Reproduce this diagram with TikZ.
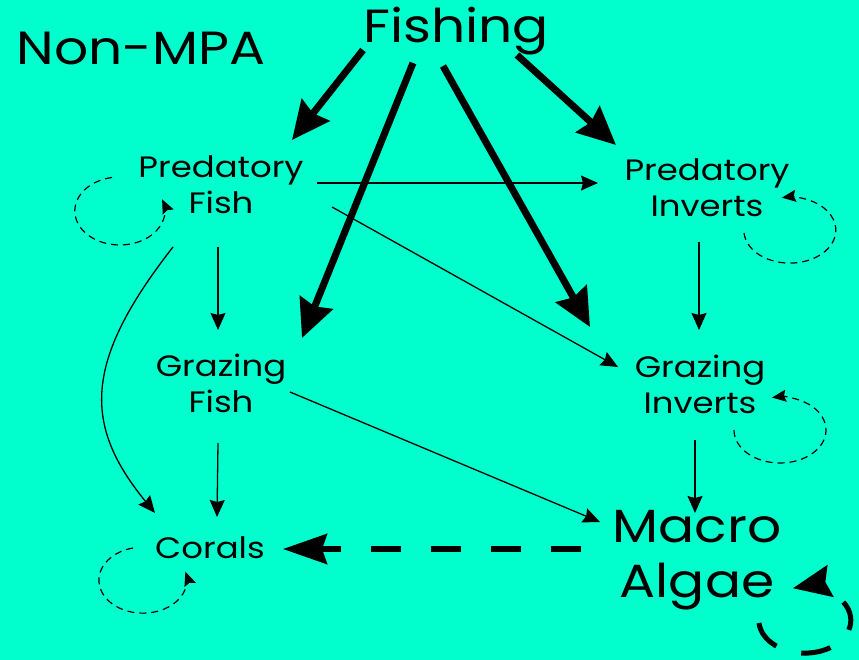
\documentclass[tikz,border=0pt]{standalone}
\usepackage{fontspec}
\setmainfont{Poppins}[FakeStretch=1.15]
\usepackage{xcolor}
\usetikzlibrary{arrows.meta, calc}
\definecolor{seacyan}{RGB}{0,255,204}

\begin{document}
\begin{tikzpicture}[x=1pt, y=-1pt,
    lbl/.style={align=center, inner sep=0pt, font=\fontsize{29.5}{36}\selectfont},
    biglbl/.style={align=center, inner sep=0pt, font=\fontsize{46.5}{55}\selectfont},
    link/.style={-{Stealth[length=17pt, width=15pt, inset=2pt]}, line width=1.3pt},
    fisharrow/.style={-{Stealth[length=38pt, width=35pt, inset=4pt]}, line width=7pt},
    selfloop/.style={-{Stealth[length=14pt, width=12pt, inset=2pt]}, line width=1.2pt, dash pattern=on 7pt off 5pt},
    bigloop/.style={-{Stealth[length=38pt, width=32pt, inset=5pt]}, line width=5pt, dash pattern=on 30pt off 26pt},
    bigdash/.style={-{Stealth[length=44pt, width=30pt, inset=5pt]}, line width=5.5pt, dash pattern=on 30pt off 30pt}
]
\fill[seacyan] (0,0) rectangle (859,660);
\useasboundingbox (0,0) rectangle (859,660);

\node[biglbl] (nonmpa) at (141,48) {Non-MPA};
\node[biglbl] (fishing) at (456,31) {Fishing};
\node[lbl] (predfish) at (221,185) {Predatory\\Fish};
\node[lbl] (predinv) at (707,188) {Predatory\\Inverts};
\node[lbl] (grazfish) at (221,383) {Grazing\\Fish};
\node[lbl] (grazinv) at (700,384) {Grazing\\Inverts};
\node[lbl] (corals) at (210,548) {Corals};
\node[biglbl] (algae) at (697,560) {Macro\\Algae};

% fishing pressure
\draw[fisharrow] ($(fishing)+(-93,19)$) -- ($(predfish)+(71,-45)$);
\draw[fisharrow] ($(fishing)+(-43,32)$) -- ($(grazfish)+(81,-45)$);
\draw[fisharrow] ($(fishing)+(-13,35)$) -- ($(grazinv)+(-110,-57)$);
\draw[fisharrow] ($(fishing)+(61,24)$) -- ($(predinv)+(-91,-43)$);

% food web links
\draw[link] ($(predfish)+(96,-2)$) -- ($(predinv)+(-109,-5)$);
\draw[link] ($(predfish)+(111,22)$) -- ($(grazinv)+(-82,-17)$);
\draw[link] ($(predfish)+(-3,62)$) -- ($(grazfish)+(-3,-53)$);
\draw[link] ($(predfish)+(-48,62)$) .. controls +(-90,115) and +(-72,-88) .. ($(corals)+(-55,-35)$);
\draw[link] ($(grazfish)+(-3,60)$) -- ($(corals)+(7,-31)$);
\draw[link] ($(grazfish)+(69,9)$) -- ($(algae)+(-97,-38)$);
\draw[link] ($(predinv)+(-8,54)$) -- ($(grazinv)+(-1,-54)$);
\draw[link] ($(grazinv)+(-5,56)$) -- ($(algae)+(-2,-47)$);
\draw[bigdash] ($(algae)+(-116,-11)$) -- ($(corals)+(73,1)$);

% self loops
\draw[selfloop] ($(predfish)+(-109,-7.5)$) arc[start angle=260, end angle=-20, x radius=45, y radius=34];
\draw[selfloop] ($(predinv)+(37,45)$) arc[start angle=175, end angle=-100, x radius=46, y radius=33];
\draw[selfloop] ($(grazinv)+(34,46)$) arc[start angle=180, end angle=-100, x radius=46, y radius=33];
\draw[selfloop] ($(corals)+(-77,0)$) arc[start angle=257, end angle=-15, x radius=44, y radius=33];
\draw[bigloop] ($(algae)+(62,63)$) arc[start angle=175, end angle=-105, x radius=46, y radius=33];
\end{tikzpicture}
\end{document}
